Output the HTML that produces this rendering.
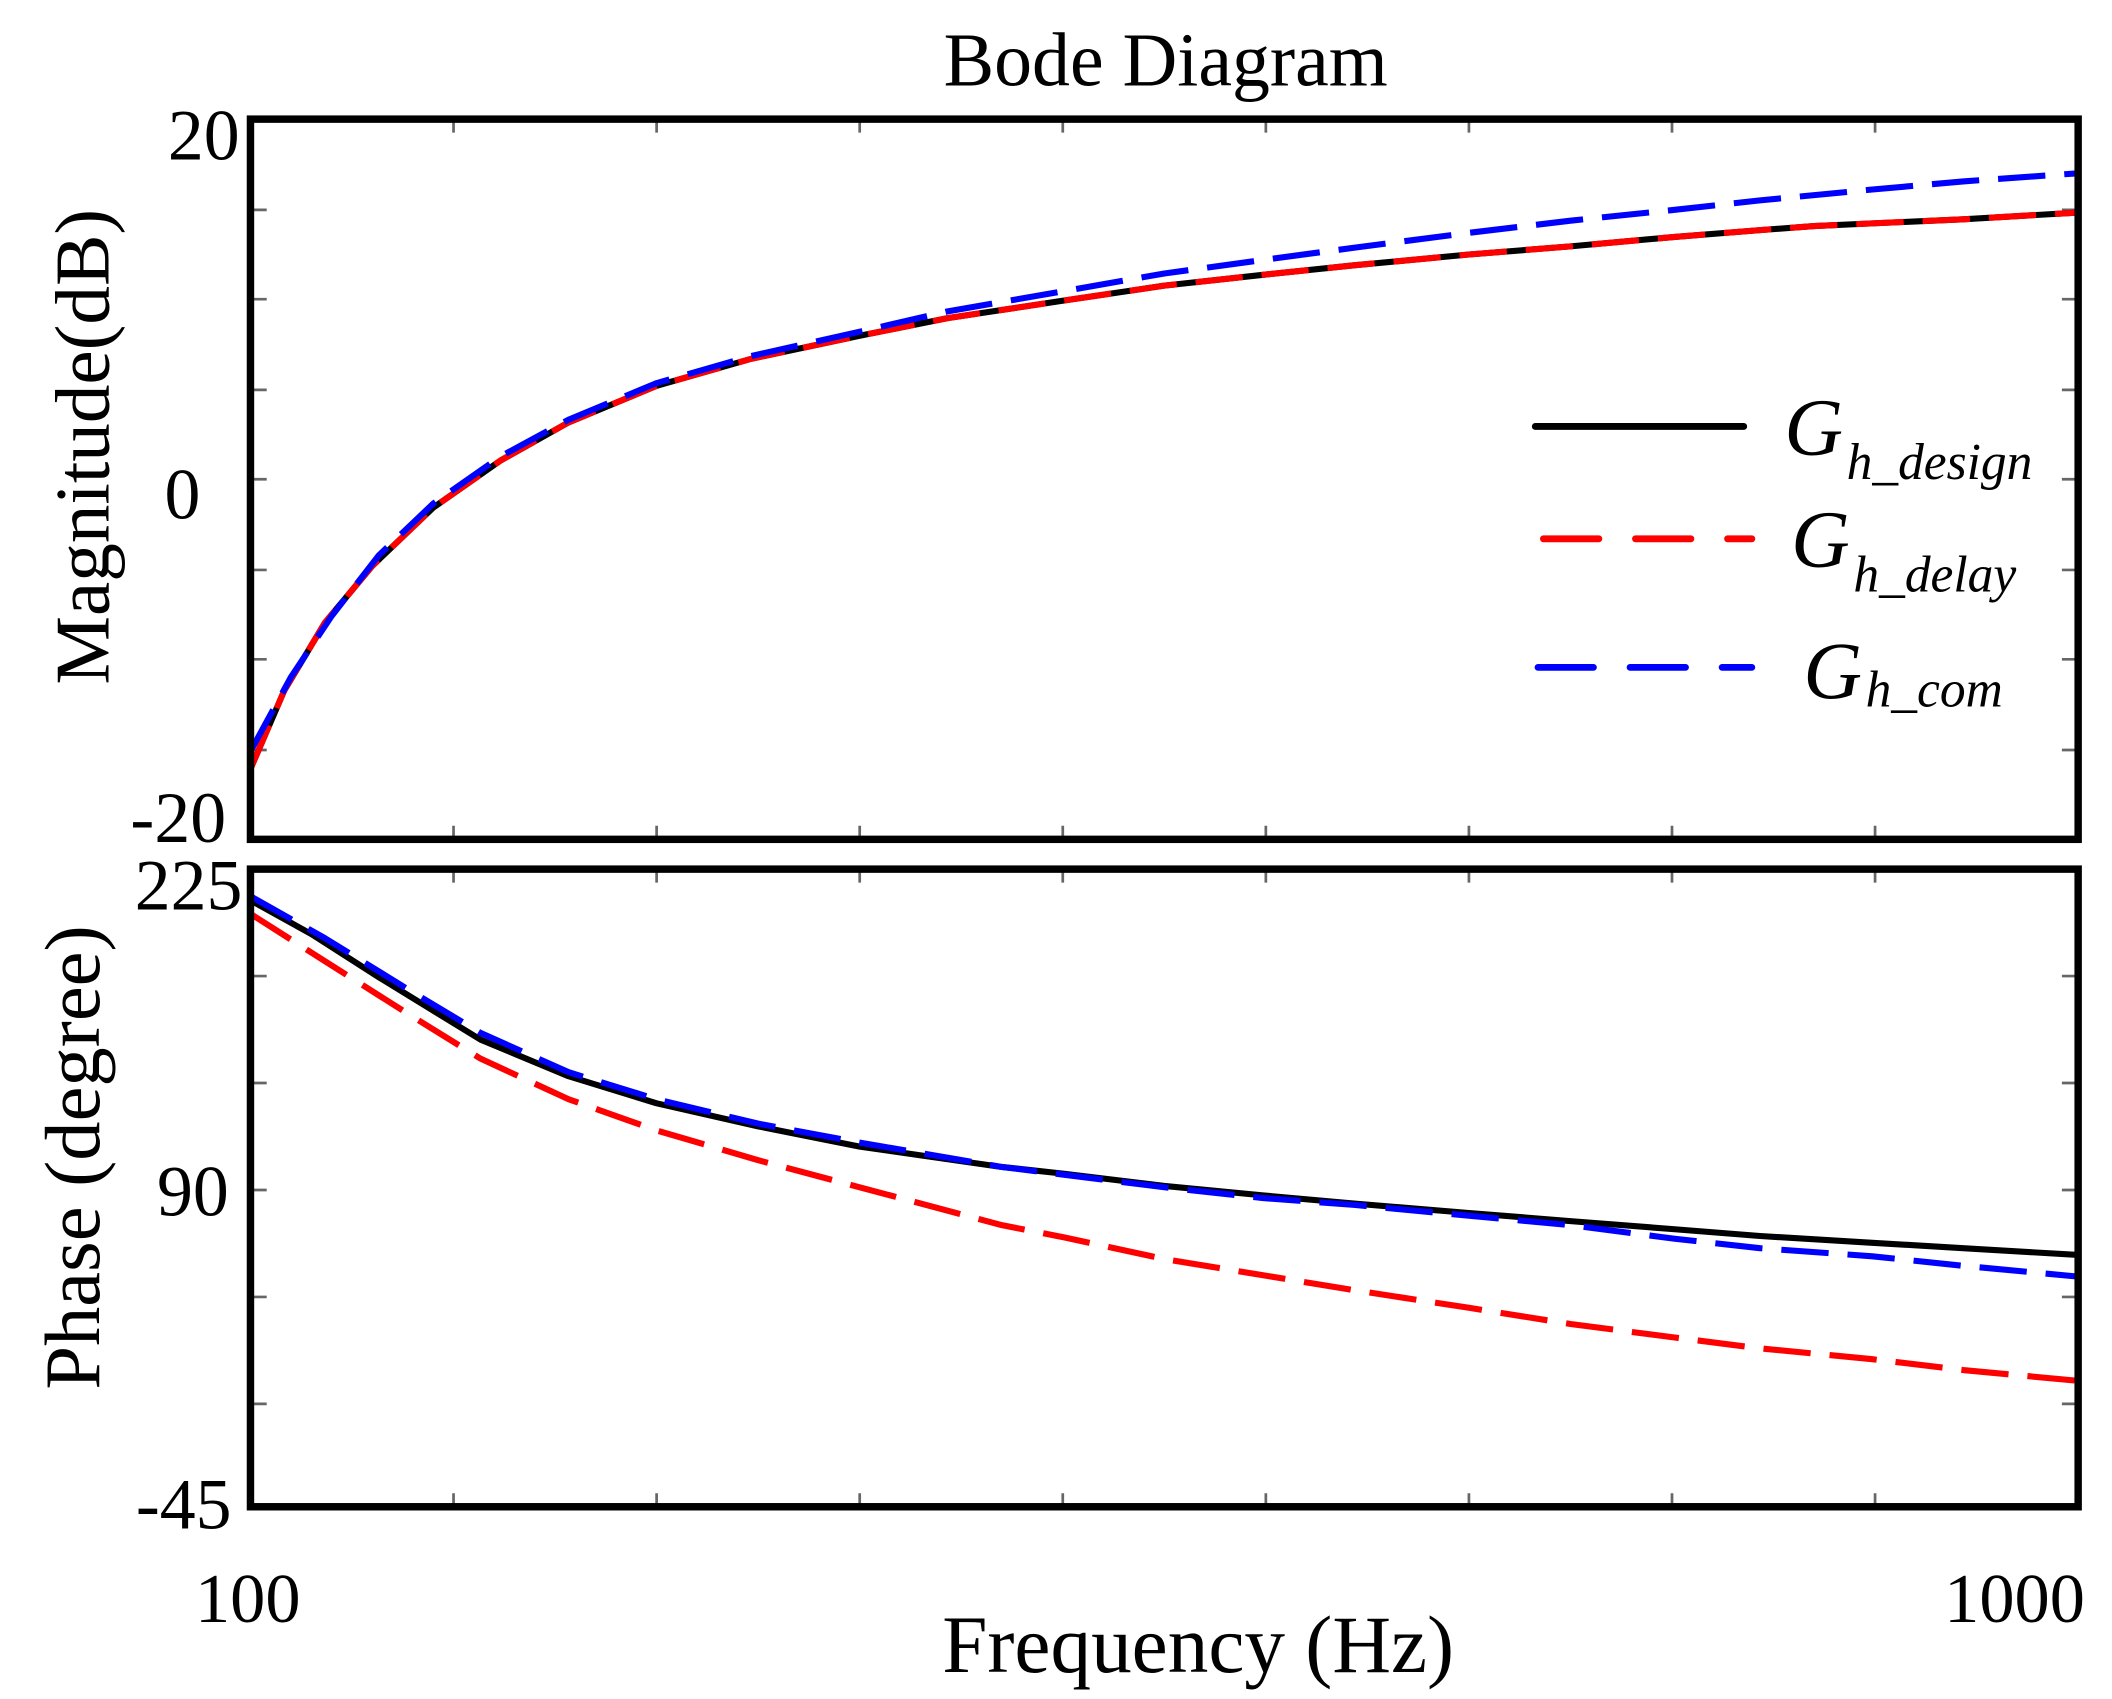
<!DOCTYPE html>
<html><head><style>html,body{margin:0;padding:0;background:#fff}svg{display:block}</style></head>
<body>
<svg width="2112" height="1699" viewBox="0 0 1560 1255" preserveAspectRatio="none" xmlns="http://www.w3.org/2000/svg" font-family="Liberation Serif, serif">
<rect width="1560" height="1255" fill="#fff"/>
<text x="861" y="63" font-size="56" text-anchor="middle">Bode Diagram</text>
<g stroke="#666" stroke-width="2">
<path d="M335 88v10M485 88v10M635 88v10M785 88v10M935 88v10M1085 88v10M1235 88v10M1385 88v10
M335 620v-10M485 620v-10M635 620v-10M785 620v-10M935 620v-10M1085 620v-10M1235 620v-10M1385 620v-10
M335 642v10M485 642v10M635 642v10M785 642v10M935 642v10M1085 642v10M1235 642v10M1385 642v10
M335 1113v-10M485 1113v-10M635 1113v-10M785 1113v-10M935 1113v-10M1085 1113v-10M1235 1113v-10M1385 1113v-10
M185 155h12M185 221h12M185 288h12M185 354h12M185 421h12M185 487h12M185 554h12
M1535 155h-12M1535 221h-12M1535 288h-12M1535 354h-12M1535 421h-12M1535 487h-12M1535 554h-12
M185 721h12M185 800h12M185 879h12M185 958h12M185 1037h12
M1535 721h-12M1535 800h-12M1535 879h-12M1535 958h-12M1535 1037h-12"/>
</g>
<g fill="none" stroke-width="4.5" stroke-linejoin="round">
<path stroke="#000" d="M185 568L210 510L240 460L275 418L320 375L370 340L420 312L485 285L555 265L635 248L700 235L786 222L860 211L933 203L1000 196L1085 188L1160 182L1237 175L1300 170L1340 167L1383 165L1450 162L1535 157"/>
<path stroke="#f00" stroke-dasharray="35 14" d="M185 568L210 510L240 460L275 418L320 375L370 340L420 312L485 285L555 265L635 248L700 235L786 222L860 211L933 203L1000 196L1085 188L1160 182L1237 175L1300 170L1340 167L1383 165L1450 162L1535 157"/>
<path stroke="#00f" stroke-dasharray="35 14" d="M185 555L215 500L245 455L280 410L320 372L370 337L420 310L485 283L555 263L635 245L700 230L786 215L860 202L933 192L1000 183L1085 172L1160 163L1237 155L1300 148L1383 140L1450 134L1535 128"/>
<path stroke="#000" d="M185 665L230 690L280 722L355 768L420 795L485 815L560 832L635 847L740 862L786 867L860 876L933 883L1000 889L1085 896L1160 902L1237 908L1300 913L1383 918L1450 922L1535 927"/>
<path stroke="#00f" stroke-dasharray="35 14" d="M185 662L240 693L300 730L355 763L420 792L485 812L560 830L635 844L740 862L860 877L933 885L1000 890L1085 898L1160 905L1237 915L1300 922L1383 928L1450 935L1535 943"/>
<path stroke="#f00" stroke-dasharray="35 14" d="M185 675L240 710L300 748L355 782L420 812L485 835L560 857L635 877L740 905L786 914L860 930L933 942L1000 953L1085 966L1160 978L1237 988L1300 996L1383 1004L1450 1012L1535 1020"/>
</g>
<g fill="none" stroke="#000" stroke-width="5.5">
<rect x="185" y="88" width="1350" height="532"/>
<rect x="185" y="642" width="1350" height="471"/>
</g>
<g font-size="53" text-anchor="end">
<text x="177" y="118">20</text>
<text x="148" y="383">0</text>
<text x="167" y="622">-20</text>
<text x="179" y="672">225</text>
<text x="169" y="898">90</text>
<text x="171" y="1129">-45</text>
</g>
<g font-size="52" text-anchor="middle">
<text x="183" y="1198">100</text>
<text x="1488" y="1198">1000</text>
</g>
<text x="885" y="1235" font-size="60" text-anchor="middle">Frequency  (Hz)</text>
<text transform="translate(80 330) rotate(-90)" font-size="57" text-anchor="middle">Magnitude(dB)</text>
<text transform="translate(73 855) rotate(-90)" font-size="58" text-anchor="middle">Phase  (degree)</text>
<g stroke-width="5" stroke-linecap="round">
<path stroke="#000" d="M1134 315H1288"/>
<path stroke="#f00" d="M1140 398H1294" stroke-dasharray="41 27"/>
<path stroke="#00f" d="M1136 493H1294" stroke-dasharray="41 27"/>
</g>
<g font-style="italic">
<text x="1318" y="336" font-size="60">G</text><text x="1364" y="354" font-size="38">h_design</text>
<text x="1323" y="419" font-size="60">G</text><text x="1369" y="437" font-size="38">h_delay</text>
<text x="1332" y="516" font-size="60">G</text><text x="1378" y="522" font-size="38">h_com</text>
</g>
</svg>
</body></html>
